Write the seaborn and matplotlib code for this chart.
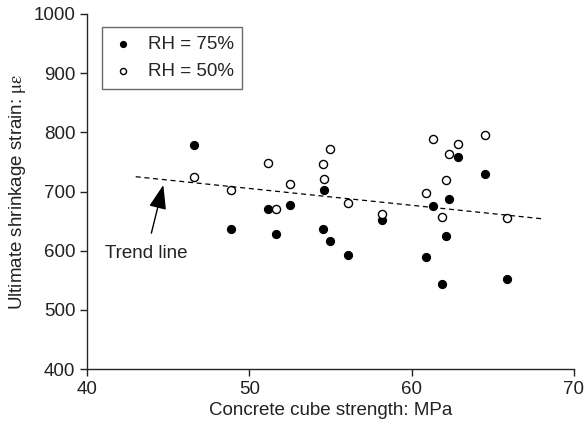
import matplotlib
matplotlib.use("Agg")
import matplotlib.pyplot as plt
import pandas as pd
import seaborn as sns

# cube strength (MPa) and ultimate shrinkage strain (microstrain)
strength_75 = [46.6, 48.9, 51.15, 51.66, 52.5, 54.62, 54.54, 54.95, 56.07, 58.18,
               61.3, 60.9, 62.27, 62.13, 61.86, 62.85, 64.54, 65.9]
strain_75 = [779, 637, 670, 628, 677, 703, 637, 616, 592, 652,
             675, 590, 688, 625, 543, 759, 730, 552]
strength_50 = [46.58, 48.9, 51.15, 51.66, 52.53, 54.95, 54.54, 54.62, 56.07, 58.18,
               61.3, 62.85, 62.3, 64.54, 62.13, 60.9, 61.86, 65.9]
strain_50 = [724, 703, 748, 670, 712, 772, 746, 721, 681, 662,
             788, 781, 764, 795, 719, 697, 657, 655]
trend_x = [43, 68]
trend_y = [725, 654]

df75 = pd.DataFrame({"strength": strength_75, "strain": strain_75})
df50 = pd.DataFrame({"strength": strength_50, "strain": strain_50})

sns.set_style("ticks")
plt.rcParams["font.family"] = ["Liberation Sans", "DejaVu Sans"]
plt.rcParams["mathtext.fontset"] = "stix"

fig = plt.figure(figsize=(5.86, 4.32), dpi=100)
ax = fig.add_axes([0.1485, 0.1458, 0.831, 0.8218])

txt = "#222222"
fs = 13.5

sns.scatterplot(data=df75, x="strength", y="strain", ax=ax, color="black",
                edgecolor="black", s=34, linewidth=0.8, label="RH = 75%")
sns.scatterplot(data=df50, x="strength", y="strain", ax=ax, color="white",
                edgecolor="black", s=34, linewidth=1.0, label="RH = 50%")
ax.plot(trend_x, trend_y, ls=(0, (4, 3)), color="black", lw=0.9)

ax.annotate("Trend line", xy=(44.7, 711), xytext=(43.66, 596),
            ha="center", va="center", fontsize=fs, color=txt,
            arrowprops=dict(arrowstyle="-|>,head_length=1.1,head_width=0.4",
                            color="black", lw=1.0, shrinkA=6, shrinkB=0))

ax.set_xlim(40, 70)
ax.set_ylim(400, 1000)
ax.set_xticks([40, 50, 60, 70])
ax.set_yticks(range(400, 1001, 100))
ax.set_xlabel("Concrete cube strength: MPa", fontsize=fs, color=txt, labelpad=3)
ax.set_ylabel(r"Ultimate shrinkage strain: $\mathrm{\mu\varepsilon}$",
              fontsize=fs, color=txt)
ax.tick_params(labelsize=fs, colors=txt, length=5, width=1.0)
sns.despine(ax=ax)
for sp in ax.spines.values():
    sp.set_linewidth(1.0)

leg = ax.legend(loc="upper left", bbox_to_anchor=(0.03, 0.963), frameon=True,
                fancybox=False, edgecolor="#444444", fontsize=fs,
                markerscale=0.75, handletextpad=0.6, borderpad=0.45,
                handlelength=1.4, labelspacing=0.55, borderaxespad=0)
leg.get_frame().set_linewidth(1.0)

fig.savefig("out.png", dpi=100)
